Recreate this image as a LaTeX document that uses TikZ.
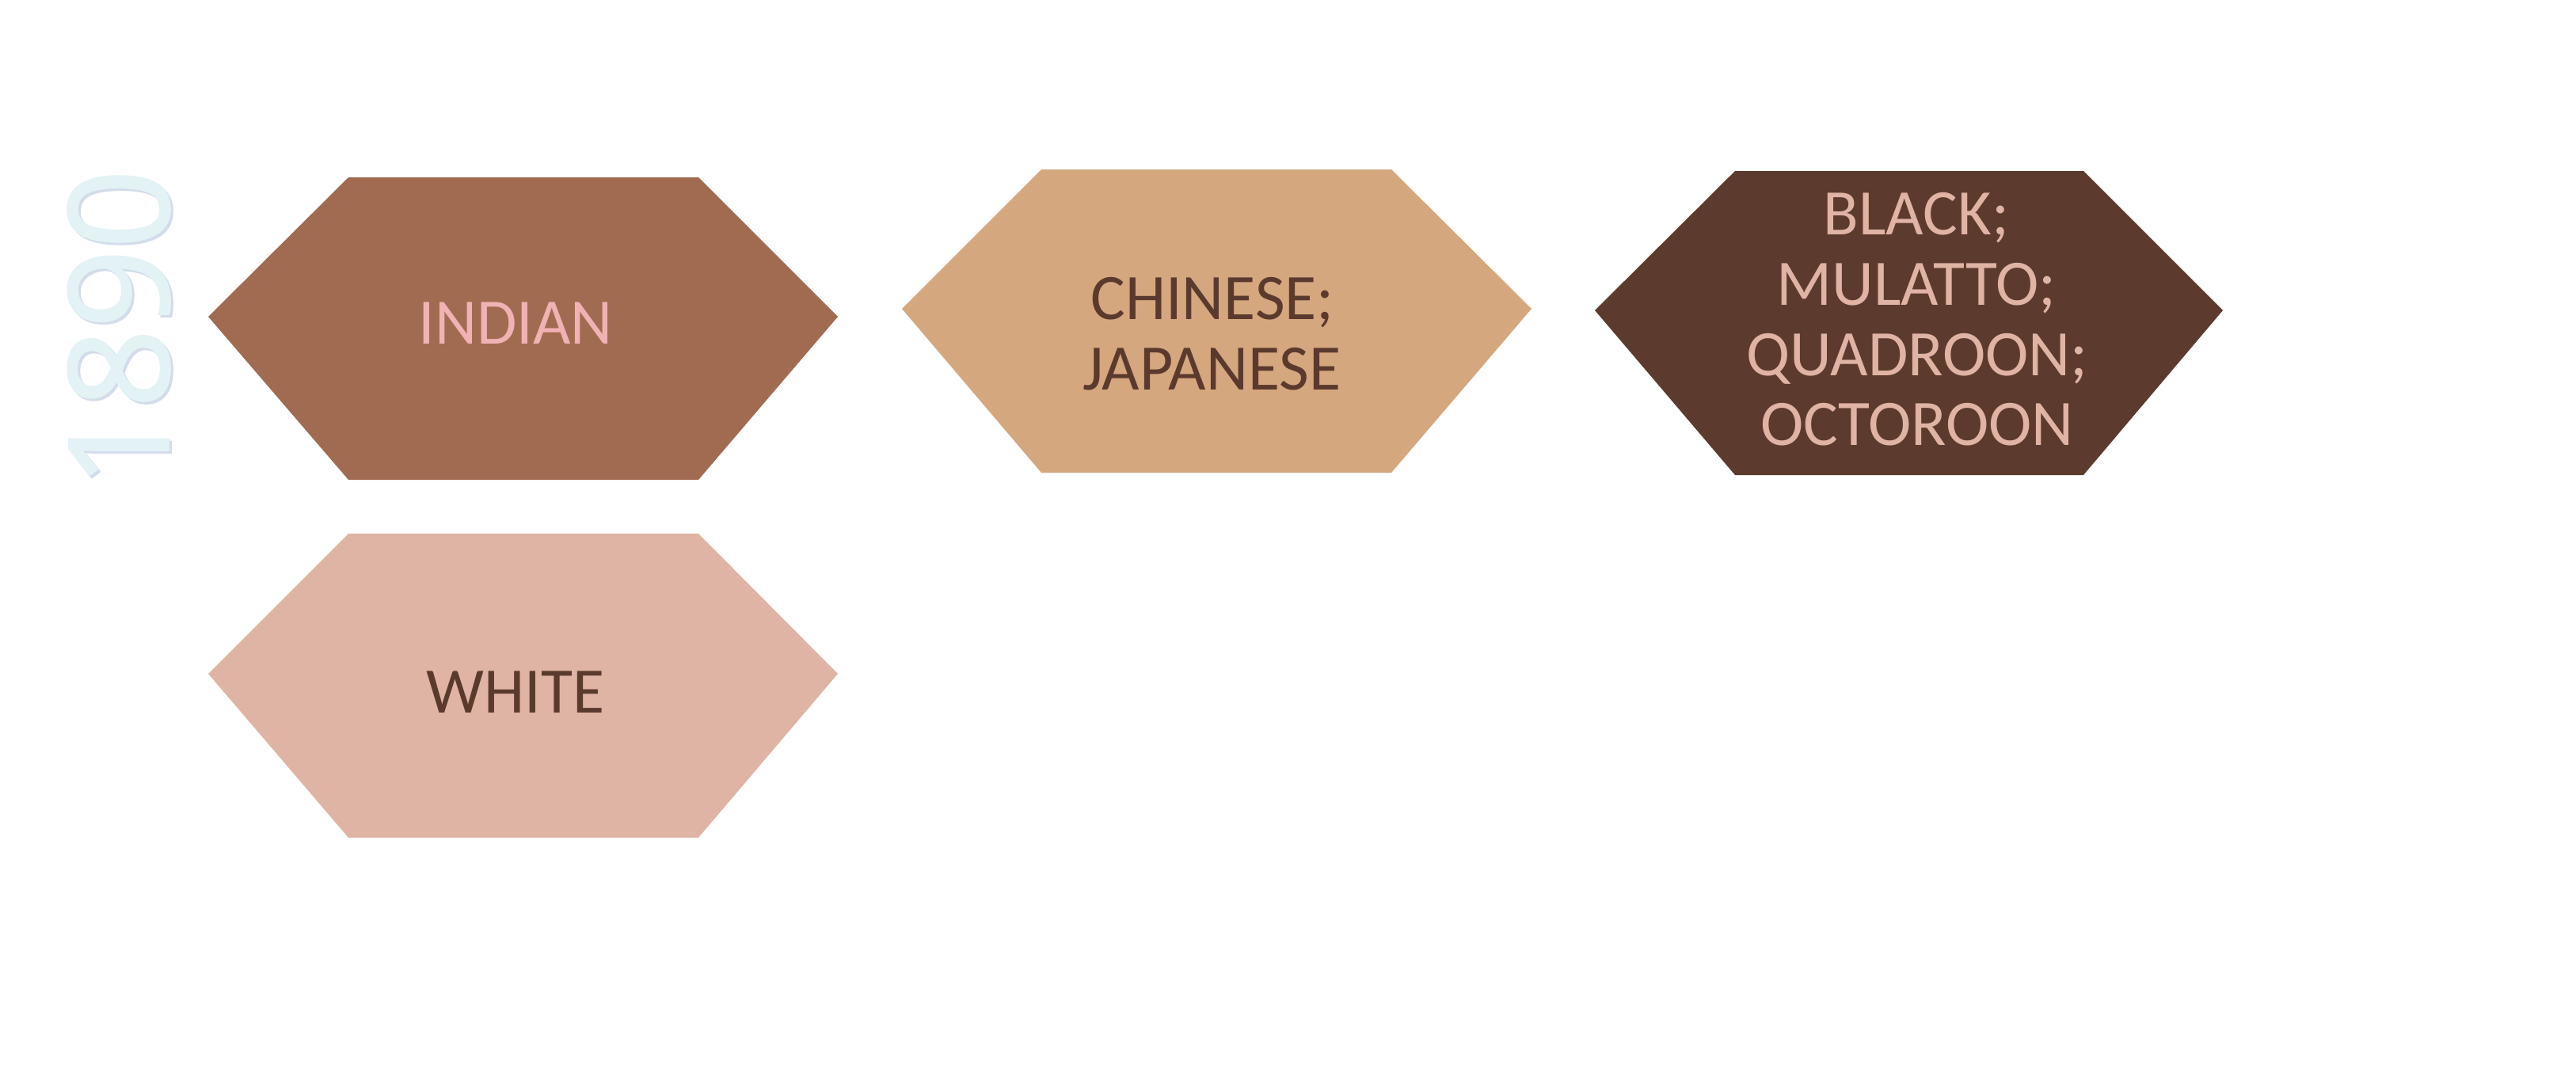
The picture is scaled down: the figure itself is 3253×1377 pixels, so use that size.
\documentclass[tikz,border=0pt]{standalone}
\usepackage{fontspec}
\setmainfont{Carlito}
\newfontfamily\yearfont[FakeBold=1.3]{Open Sans}
\definecolor{indianfill}{HTML}{A06B50}
\definecolor{indiantext}{HTML}{F0B2B4}
\definecolor{chinafill}{HTML}{D4A77E}
\definecolor{darkbrown}{HTML}{5B3A2E}
\definecolor{blackfill}{HTML}{5C3A2E}
\definecolor{paleskin}{HTML}{E0B4A4}
\definecolor{yearcol}{HTML}{E3F2F5}
\definecolor{yearshadow}{HTML}{D3DCEA}
\begin{document}
\begin{tikzpicture}[x=0.5pt,y=-0.5pt,
  hexshape/.style={draw=none},
  lbl/.style={inner sep=0pt, anchor=base, font=\fontsize{41}{45}\selectfont},
  yearlbl/.style={inner sep=0pt, anchor=base, rotate=90, font=\yearfont\fontsize{88}{90}\selectfont}]
\useasboundingbox[fill=white] (0,0) rectangle (3253,1377);
% year
\node[yearlbl, text=yearshadow] (yearshadow) at (216,418) {1890};
\node[yearlbl, text=yearcol] (year) at (213,415) {1890};
% hexagons
\fill[hexshape, indianfill] (263,400) -- (440,224) -- (882,224) -- (1058,400) -- (882,606) -- (440,606) -- cycle;
\fill[hexshape, chinafill] (1139,390) -- (1315,214) -- (1757,214) -- (1934,390) -- (1757,597) -- (1315,597) -- cycle;
\fill[hexshape, blackfill] (2014,392) -- (2191,216) -- (2631,216) -- (2807,392) -- (2631,600) -- (2191,600) -- cycle;
\fill[hexshape, paleskin] (263,851) -- (440,674) -- (882,674) -- (1058,851) -- (882,1058) -- (440,1058) -- cycle;
% labels
\node[lbl, text=indiantext] (indian) at (651,434) {INDIAN};
\node[lbl, text=darkbrown] (chinese) at (1531,403) {CHINESE;};
\node[lbl, text=darkbrown] (japanese) at (1530,492) {JAPANESE};
\node[lbl, text=paleskin] (black) at (2420,296) {BLACK;};
\node[lbl, text=paleskin] (mulatto) at (2420,385) {MULATTO;};
\node[lbl, text=paleskin] (quadroon) at (2421,474) {QUADROON;};
\node[lbl, text=paleskin] (octoroon) at (2421,562) {OCTOROON};
\node[lbl, text=darkbrown] (white) at (651,900) {WHITE};
\end{tikzpicture}
\end{document}
